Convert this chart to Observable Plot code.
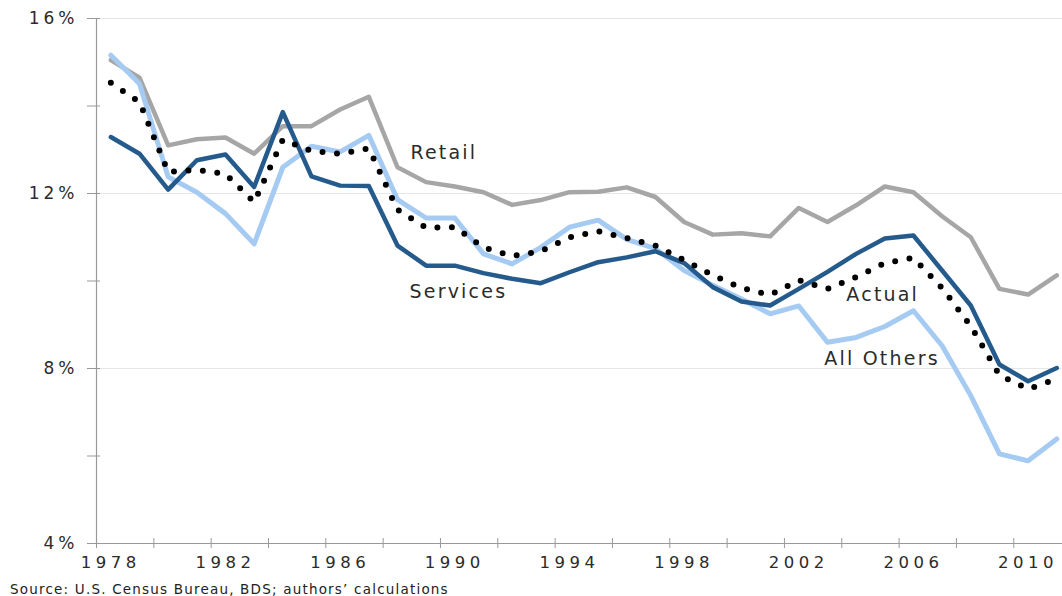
<!DOCTYPE html>
<html>
<head>
<meta charset="utf-8">
<script src="https://cdn.jsdelivr.net/npm/d3@7"></script>
<script src="https://cdn.jsdelivr.net/npm/@observablehq/plot@0.6"></script>
<style>
  html, body { margin: 0; padding: 0; background: #fff; }
  #chart svg { display: block; }
  #caption { font-family: "DejaVu Sans", sans-serif; font-size: 13.5px; letter-spacing: 1.2px; color: #222; height: 18px; line-height: 18px; padding-left: 10px; padding-top: 2px; }
</style>
</head>
<body>
<div id="chart"></div>
<div id="caption">Source: U.S. Census Bureau, BDS; authors’ calculations</div>
<script>
const years = d3.range(1978, 2012);

const retail = [15.05, 14.65, 13.10, 13.24, 13.28, 12.91, 13.54, 13.54, 13.92, 14.21,
  12.60, 12.26, 12.16, 12.03, 11.74, 11.85, 12.03, 12.04, 12.14, 11.92,
  11.35, 11.06, 11.09, 11.02, 11.67, 11.35, 11.73, 12.16, 12.03, 11.48,
  11.00, 9.82, 9.69, 10.13];

const allOthers = [15.16, 14.51, 12.38, 12.03, 11.54, 10.85, 12.60, 13.08, 12.95, 13.33,
  11.86, 11.44, 11.44, 10.62, 10.39, 10.77, 11.23, 11.39, 10.95, 10.74,
  10.24, 9.90, 9.59, 9.25, 9.43, 8.60, 8.71, 8.96, 9.32, 8.52,
  7.38, 6.05, 5.89, 6.39];

const services = [13.29, 12.91, 12.09, 12.76, 12.89, 12.15, 13.86, 12.39, 12.18, 12.17,
  10.81, 10.35, 10.35, 10.18, 10.05, 9.95, 10.20, 10.43, 10.54, 10.68,
  10.41, 9.86, 9.53, 9.44, 9.82, 10.21, 10.62, 10.97, 11.04, 10.24,
  9.44, 8.09, 7.71, 8.01];

const actual = [14.53, 14.09, 12.49, 12.54, 12.45, 11.80, 13.23, 12.97, 12.91, 13.03,
  11.63, 11.22, 11.23, 10.77, 10.57, 10.68, 11.00, 11.14, 10.98, 10.81,
  10.48, 10.13, 9.84, 9.68, 10.02, 9.82, 10.09, 10.41, 10.53, 9.84,
  8.97, 7.85, 7.53, 7.76];

const yTickMarks = [4, 6, 8, 10, 12, 14, 16];
const yTickLabels = [4, 8, 12, 16];
const gridValues = [8, 12, 16];
const xTickMarks = d3.range(1978, 2011, 2);
const xTickLabels = [1978, 1982, 1986, 1990, 1994, 1998, 2002, 2006, 2010];

const rows = (vals) => years.map((year, i) => ({year, value: vals[i]}));

const seriesLabels = [
  {text: "Retail", year: 1988.95, value: 12.92},
  {text: "Services", year: 1988.92, value: 9.74},
  {text: "Actual", year: 2004.16, value: 9.68},
  {text: "All Others", year: 2003.39, value: 8.22}
];

const axisGray = "#999999";
const textColor = "#2b2b2b";

const chart = Plot.plot({
  width: 1062,
  height: 578,
  marginLeft: 96,
  marginRight: 0,
  marginTop: 18,
  marginBottom: 35,
  x: {domain: [1978, 2011.7]},
  y: {domain: [4, 16]},
  style: {fontFamily: "DejaVu Sans, sans-serif", color: textColor, background: "#fff"},
  marks: [
    Plot.ruleY(gridValues, {stroke: "#e6e6e6", strokeWidth: 1}),
    Plot.ruleY([4], {stroke: axisGray, strokeWidth: 1.2}),
    Plot.ruleX([1978], {stroke: axisGray, strokeWidth: 1.2}),
    Plot.axisY({ticks: yTickMarks, tickSize: 13, dx: 4, stroke: axisGray, tickFormat: () => "", label: null}),
    Plot.axisY({ticks: yTickLabels, tickSize: 0, tickPadding: 18, tickFormat: d => d + "%", fontSize: 17, fill: textColor, label: null}),
    Plot.axisX({ticks: xTickMarks, tickSize: 10, dy: -5, stroke: axisGray, tickFormat: () => "", label: null}),
    Plot.axisX(xTickLabels.map(d => d + 0.5), {tickSize: 0, tickPadding: 13, tickFormat: d => String(Math.floor(d)), fontSize: 16, fill: textColor, label: null}),
    Plot.line(rows(retail), {x: d => d.year + 0.5, y: "value", stroke: "#a6a6a6", strokeWidth: 4.5}),
    Plot.line(rows(allOthers), {x: d => d.year + 0.5, y: "value", stroke: "#a6cbf3", strokeWidth: 5}),
    Plot.line(rows(services), {x: d => d.year + 0.5, y: "value", stroke: "#245a8c", strokeWidth: 4.5}),
    Plot.line(rows(actual), {x: d => d.year + 0.5, y: "value", stroke: "#000", strokeWidth: 6, strokeDasharray: "0 14.5", strokeLinecap: "round"}),
    Plot.text(seriesLabels, {x: "year", y: "value", text: "text", textAnchor: "start", fontSize: 19, fill: textColor})
  ]
});

// wider letter spacing for tick labels and series labels, matching the stretched look
const svg = d3.select(chart);
svg.selectAll("[aria-label='x-axis tick label'] text").style("letter-spacing", "4.5px").style("font-size", "16.5px");
svg.selectAll("[aria-label='y-axis tick label'] text").style("letter-spacing", "4px").style("font-size", "17px");
svg.selectAll("[aria-label='text'] text").style("letter-spacing", "2.2px");

document.getElementById("chart").appendChild(chart);
</script>
</body>
</html>
